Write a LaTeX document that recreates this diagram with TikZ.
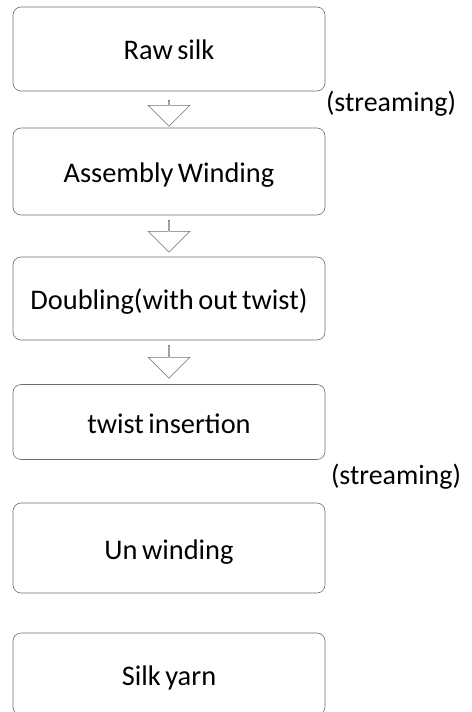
\documentclass[tikz,border=0pt]{standalone}
\usepackage{fontspec}
\setmainfont{Carlito}[WordSpace=0.7]
\usetikzlibrary{shapes.arrows}
\definecolor{edge}{HTML}{6E6E6E}
\tikzset{
  stage/.style={draw=edge, rounded corners=8bp, line width=0.6pt,
                minimum width=312bp, inner sep=0pt, align=center,
                text height=22bp, text depth=0bp,
                font=\fontsize{28.5}{34}\selectfont},
  flowarrow/.style={draw=edge, line width=0.6pt, single arrow,
                    shape border rotate=270, minimum width=42bp,
                    single arrow head extend=9.5bp, single arrow tip angle=90,
                    inner sep=0pt},
  note/.style={font=\fontsize{28}{33}\selectfont, inner sep=0pt}
}
\begin{document}
\begin{tikzpicture}[x=1bp,y=-1bp]
  \clip (0,0) rectangle (472,712);

  \node[stage, minimum height=84bp] (raw) at (169,49) {Raw silk};
  \node[stage, minimum height=87bp] (assembly) at (169,171.5) {Assembly Winding};
  \node[stage, minimum height=83bp] (doubling) at (169,298.5) {Doubling(with out twist)};
  \node[stage, minimum height=75bp] (twist) at (169,422) {twist insertion};
  \node[stage, minimum height=90bp] (unwind) at (169,548) {Un winding};
  \node[stage, minimum height=82bp] (yarn) at (169,674) {Silk yarn};

  \node[flowarrow, minimum height=26bp] (a1) at (169,113) {};
  \node[flowarrow, minimum height=32bp] (a2) at (169,236) {};
  \node[flowarrow, minimum height=33bp] (a3) at (169,361.5) {};

  \node[note] (stream1) at (391,104) {(streaming)};
  \node[note] (stream2) at (396,477) {(streaming)};
\end{tikzpicture}
\end{document}
